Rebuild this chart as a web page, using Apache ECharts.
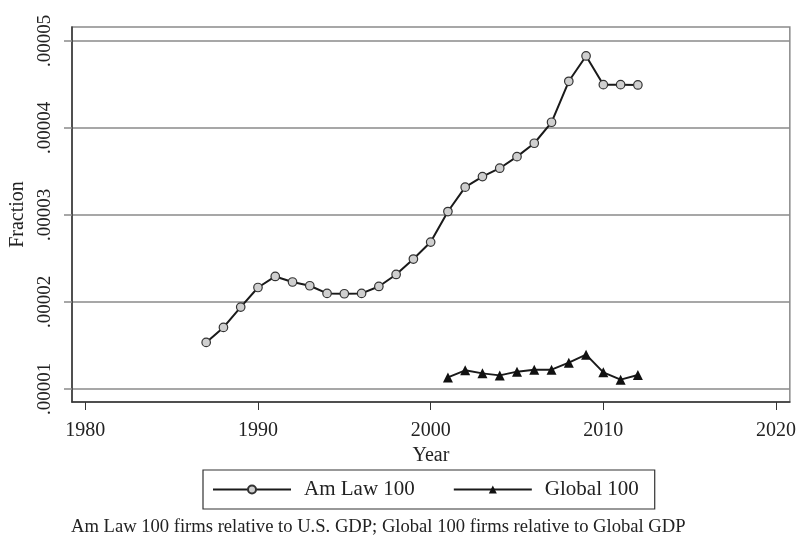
<!DOCTYPE html>
<html>
<head>
<meta charset="utf-8">
<script src="https://cdn.jsdelivr.net/npm/echarts@6/dist/echarts.min.js"></script>
<style>
html,body{margin:0;padding:0;background:#fff;}
#chart{width:799px;height:535px;}
</style>
</head>
<body>
<div id="chart"></div>
<script>
var amlawYears = [1987,1988,1989,1990,1991,1992,1993,1994,1995,1996,1997,1998,1999,2000,2001,2002,2003,2004,2005,2006,2007,2008,2009,2010,2011,2012];
var amlawValues = [0.00001535,0.00001707,0.00001941,0.00002166,0.00002293,0.00002229,0.00002186,0.00002098,0.00002094,0.00002098,0.00002178,0.00002316,0.00002493,0.00002688,0.00003039,0.00003319,0.00003441,0.00003537,0.00003670,0.00003824,0.00004065,0.00004536,0.00004827,0.00004497,0.00004497,0.00004494];
var globalYears = [2001,2002,2003,2004,2005,2006,2007,2008,2009,2010,2011,2012];
var globalValues = [0.00001133,0.00001214,0.00001179,0.00001156,0.00001199,0.00001222,0.00001222,0.00001302,0.00001394,0.00001191,0.00001107,0.00001161];
var xTicks = [1980,1990,2000,2010,2020];
var yTicks = [0.00001,0.00002,0.00003,0.00004,0.00005];
var yTickLabels = ['.00001','.00002','.00003','.00004','.00005'];
var seriesNames = ['Am Law 100','Global 100'];
var xTitle = 'Year';
var yTitle = 'Fraction';
var caption = 'Am Law 100 firms relative to U.S. GDP; Global 100 firms relative to Global GDP';

var FONT = '"Liberation Serif","DejaVu Serif",serif';
function pairs(xs, ys){ return xs.map(function(x,i){ return [x, ys[i]]; }); }

var chart = echarts.init(document.getElementById('chart'), null, {renderer:'canvas'});
chart.setOption({
  animation:false,
  backgroundColor:'#fff',
  title:{
    text: caption,
    left: 71, top: 518,
    padding: 0,
    textStyle:{fontFamily:FONT, fontSize:18.6, fontWeight:'normal', color:'#222'}
  },
  grid:{left:71, right:9, top:27, bottom:133, show:true, borderColor:'#8a8a8a', borderWidth:1.5, containLabel:false},
  legend:{
    left:203, top:470,
    orient:'horizontal',
    borderColor:'#333', borderWidth:1.2,
    padding:[9,16,9,9],
    itemWidth:78, itemHeight:10, itemGap:38,
    textStyle:{fontFamily:FONT, fontSize:21, color:'#222', padding:[0,0,0,8]},
    data: seriesNames
  },
  xAxis:{
    type:'value', min:1979.23, max:2020.8,
    name:xTitle, nameLocation:'middle', nameGap:44,
    nameTextStyle:{fontFamily:FONT, fontSize:20, color:'#222'},
    axisLine:{show:true, onZero:false, lineStyle:{color:'#333', width:1.5}},
    axisTick:{show:true, length:8, customValues:xTicks, lineStyle:{color:'#333', width:1}},
    axisLabel:{customValues:xTicks, margin:19, fontFamily:FONT, fontSize:20, color:'#222',
      formatter:function(v){ return String(Math.round(v)); }},
    splitLine:{show:false}
  },
  yAxis:{
    type:'value', min:0.0000085, max:0.0000516,
    name:yTitle, nameLocation:'middle', nameGap:44,
    nameTextStyle:{fontFamily:FONT, fontSize:20, color:'#222'},
    axisLine:{show:true, onZero:false, lineStyle:{color:'#333', width:1.5}},
    axisTick:{show:true, length:8, customValues:yTicks, lineStyle:{color:'#8a8a8a', width:1.5}},
    axisLabel:{customValues:yTicks, rotate:90, margin:17, fontFamily:FONT, fontSize:19, color:'#222',
      formatter:function(v){ var i = yTicks.findIndex(function(t){return Math.abs(t-v)<1e-9;}); return i>=0 ? yTickLabels[i] : ''; }},
    splitLine:{show:true, lineStyle:{color:'#8a8a8a', width:1.5}}
  },
  series:[
    {
      name:seriesNames[0], type:'line',
      data: pairs(amlawYears, amlawValues),
      symbol:'circle', symbolSize:8.5,
      lineStyle:{color:'#1a1a1a', width:2},
      itemStyle:{color:'#cfcfcf', borderColor:'#333', borderWidth:1.2},
      z:3
    },
    {
      name:seriesNames[1], type:'line',
      data: pairs(globalYears, globalValues),
      symbol:'triangle', symbolSize:10,
      lineStyle:{color:'#1a1a1a', width:2},
      itemStyle:{color:'#111', borderColor:'#111', borderWidth:0},
      z:3
    }
  ]
});
</script>
</body>
</html>
